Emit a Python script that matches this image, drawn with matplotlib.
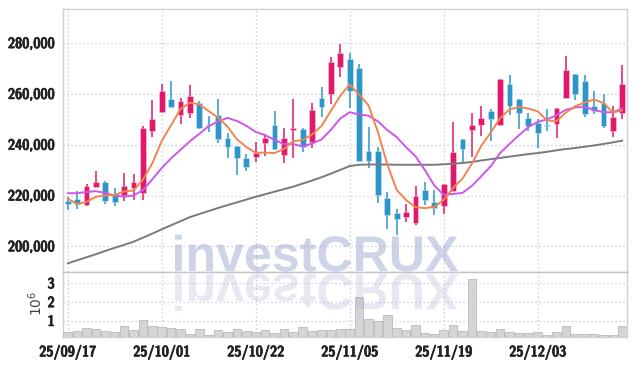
import os
import matplotlib
matplotlib.use('Agg')
import matplotlib.pyplot as plt
from matplotlib.patches import PathPatch
from matplotlib.textpath import TextPath
from matplotlib.font_manager import FontProperties
from matplotlib import font_manager as fm
from matplotlib.transforms import Affine2D
import matplotlib.patheffects as pe
import numpy as np
import warnings
warnings.filterwarnings('ignore')

# ---------------- data ----------------
dates = ['25/09/17', '25/09/18', '25/09/19', '25/09/22', '25/09/23', '25/09/24', '25/09/25', '25/09/26',
         '25/09/29', '25/09/30', '25/10/01', '25/10/02', '25/10/10', '25/10/13', '25/10/14', '25/10/15',
         '25/10/16', '25/10/17', '25/10/20', '25/10/21', '25/10/22', '25/10/23', '25/10/24', '25/10/27',
         '25/10/28', '25/10/29', '25/10/30', '25/10/31', '25/11/03', '25/11/04', '25/11/05', '25/11/06',
         '25/11/07', '25/11/10', '25/11/11', '25/11/12', '25/11/13', '25/11/14', '25/11/17', '25/11/18',
         '25/11/19', '25/11/20', '25/11/21', '25/11/24', '25/11/25', '25/11/26', '25/11/27', '25/11/28',
         '25/12/01', '25/12/02', '25/12/03', '25/12/04', '25/12/05', '25/12/08', '25/12/09', '25/12/10',
         '25/12/11', '25/12/12', '25/12/15', '25/12/16']

opens = [218000, 218500, 216200, 223400, 225300, 220600, 220300, 222900, 221000, 245500,
         253000, 258000, 251800, 252400, 256600, 248300, 251600, 242500, 239500, 234700,
         235300, 240800, 247800, 236000, 245800, 246200, 241200, 258400, 259900, 270500,
         273700, 270300, 237500, 237500, 219200, 213000, 211600, 209200, 222000, 217400,
         215900, 221800, 242400, 245900, 247900, 253400, 247800, 263900, 258000, 250500,
         248400, 247600, 248300, 258300, 267800, 265100, 255300, 256600, 245500, 252400]
highs = [219500, 221800, 224700, 229700, 225600, 223100, 228900, 228500, 247500, 257600,
         263800, 265100, 258300, 263300, 257200, 251300, 257900, 244700, 239500, 236300,
         241200, 244200, 253200, 246700, 257900, 246400, 256300, 262600, 274700, 279500,
         276100, 271600, 247000, 239200, 221200, 214500, 216700, 223700, 225500, 222100,
         224500, 248900, 242400, 252400, 255100, 254200, 265800, 267600, 258000, 252500,
         250000, 254200, 254300, 275100, 267800, 267400, 261300, 259900, 255300, 271400]
lows = [214200, 214500, 215900, 223400, 216600, 215800, 217900, 218400, 218400, 242900,
        252400, 255000, 248000, 250400, 246000, 245000, 240800, 234600, 227900, 229500,
        233000, 235500, 237900, 232600, 234900, 237000, 238800, 251000, 256000, 266800,
        254300, 233700, 231000, 217100, 206700, 204300, 209500, 208400, 216400, 212200,
        212900, 221800, 232600, 235000, 243400, 241400, 247800, 251700, 246000, 245500,
        238600, 245500, 242500, 258300, 257400, 250800, 252100, 246400, 242900, 250000]
closes = [216700, 216700, 223700, 225300, 217900, 217500, 223700, 225300, 246700, 250100,
          261200, 255000, 257200, 259200, 246700, 247900, 242400, 239200, 234600, 231300,
          236600, 242800, 238300, 242600, 246600, 238900, 253700, 255000, 272600, 276100,
          261200, 233700, 233700, 220300, 212500, 210900, 213700, 219700, 218400, 215200,
          224500, 237100, 238200, 247800, 250500, 250000, 265800, 255400, 252400, 247500,
          244700, 247500, 254300, 269300, 259900, 252000, 253400, 247400, 250800, 263900]
volumes = [390000, 440000, 610000, 550000, 440000, 390000, 720000, 500000, 1030000, 720000,
           670000, 640000, 580000, 310000, 550000, 270000, 540000, 390000, 590000, 470000,
           430000, 540000, 380000, 590000, 430000, 700000, 480000, 540000, 540000, 590000,
           590000, 2290000, 1090000, 980000, 1300000, 600000, 490000, 760000, 380000, 320000,
           540000, 800000, 480000, 3260000, 480000, 430000, 590000, 430000, 380000, 380000,
           430000, 270000, 430000, 750000, 320000, 320000, 320000, 270000, 270000, 750000]

# moving averages whose window reaches before the first visible day
ma5_head = [218800, 216600, 217500, 219500]
ma10_head = [220900, 220900, 221400, 221700, 221000, 220000, 219600, 220000, 222100]
ma60 = [193300, 194500, 195700, 196900, 198200, 199400, 200600, 201800, 203400, 205000,
        206700, 208300, 209900, 211500, 212700, 213900, 215100, 216200, 217300, 218400,
        219500, 220500, 221500, 222500, 223500, 224700, 225900, 227200, 228600, 230100,
        231600, 232100, 232200, 232200, 232200, 232100, 232100, 232100, 232100, 232100,
        232300, 232500, 232800, 233200, 233800, 234300, 234800, 235300, 235800, 236300,
        236700, 237200, 237800, 238300, 238700, 239200, 239700, 240300, 240900, 241600]

price_ticks = [200000, 220000, 240000, 260000, 280000]
vol_ticks = [1, 2, 3]
date_tick_step = 10

# ---------------- styling ----------------
UP = '#e2196b'
DOWN = '#2e95c8'
C_MA5 = '#ef8550'
C_MA10 = '#cc58ea'
C_MA60 = '#7a7a7a'
GRID = '#c4c7dc'
TXT = '#222222'


def pick_label_font():
    """Pick the installed sans face whose '280,000' proportions best match the reference."""
    target = 46.0 / 11.0
    best = None
    seen = set()
    for f in fm.fontManager.ttflist:
        nm = (f.name + ' ' + os.path.basename(f.fname)).lower()
        if f.fname in seen or 'mono' in nm or 'italic' in nm or 'oblique' in nm:
            continue
        if 'sans' not in nm and not any(k in nm for k in ('roboto', 'lato', 'inter')):
            continue
        if 'cjk' in nm or 'math' in nm or 'symbol' in nm or 'display' in nm:
            continue
        seen.add(f.fname)
        w = f.weight
        if isinstance(w, str):
            w = {'normal': 400, 'regular': 400, 'book': 400, 'medium': 500,
                 'semibold': 600, 'demibold': 600, 'bold': 700}.get(w.lower(), 400)
        if w < 400 or w > 700:
            continue
        try:
            prop = FontProperties(fname=f.fname)
            pw = TextPath((0, 0), '280,000', size=1, prop=prop).get_extents().width
            ph = TextPath((0, 0), '280', size=1, prop=prop).get_extents().height
        except Exception:
            continue
        if ph <= 0:
            continue
        score = abs(pw / ph - target) + 0.10 * abs(w - 620) / 150
        if best is None or score < best[0]:
            best = (score, f.fname, ph)
    if best is None:
        return FontProperties(family='DejaVu Sans'), 0.73
    return FontProperties(fname=best[1]), best[2]


lab_fp, digit_h = pick_label_font()
lab_size = 11.0 / digit_h * 0.72   # points for an 11 px digit height
lab_fp.set_size(lab_size)
thicken = [pe.withStroke(linewidth=0.55, foreground=TXT)]

W, H = 637, 366
fig = plt.figure(figsize=(W / 100, H / 100), dpi=100)
fig.patch.set_facecolor('white')

L, R = 63, 627
ax = fig.add_axes([L / W, (H - 272) / H, (R - L) / W, (272 - 9) / H])
axv = fig.add_axes([L / W, (H - 337) / H, (R - L) / W, (337 - 272) / H], sharex=ax)

n = len(closes)
x = np.arange(n)
c_arr = np.array(closes, float)
ma5 = np.array([c_arr[i - 4:i + 1].mean() if i >= 4 else ma5_head[i] for i in range(n)])
ma10 = np.array([c_arr[i - 9:i + 1].mean() if i >= 9 else ma10_head[i] for i in range(n)])

# candles
body_w = 0.62
for i in range(n):
    o, h, l, c = opens[i], highs[i], lows[i], closes[i]
    col = UP if c >= o else DOWN
    ax.vlines(x[i], l, h, color=col, lw=1.1, zorder=3)
    bot = min(o, c)
    hgt = max(abs(c - o), 450)
    if abs(c - o) < 450:
        bot = (o + c) / 2 - 225
    ax.bar(x[i], hgt, bottom=bot, width=body_w, color=col, edgecolor=(1, 1, 1, 0.35),
           linewidth=0.6, zorder=4)

ax.plot(x, ma60, color=C_MA60, lw=1.4, zorder=5, solid_capstyle='round')
ax.plot(x, ma10, color=C_MA10, lw=1.4, zorder=5, solid_capstyle='round')
ax.plot(x, ma5, color=C_MA5, lw=1.4, zorder=6, solid_capstyle='round')

ax.set_xlim(-0.5, n - 0.5)
ax.set_ylim(189900, 293400)
ax.set_yticks(price_ticks)
ax.set_yticklabels([f'{v:,}' for v in price_ticks])

# volume
vol_m = np.array(volumes) / 1e6
axv.bar(x, vol_m, width=0.92, color='#d5d5d8', edgecolor='#b9b9be', linewidth=0.6, zorder=3)
axv.set_ylim(0.143, 3.607)
axv.set_yticks(vol_ticks)
axv.set_yticklabels([str(v) for v in vol_ticks])

ticks = list(range(0, n, date_tick_step))
axv.set_xticks(ticks)
axv.set_xticklabels([dates[i] for i in ticks])
plt.setp(ax.get_xticklabels(), visible=False)

for a in (ax, axv):
    a.grid(True, color=GRID, linestyle=(0, (1, 2.2)), linewidth=0.9, zorder=0)
    a.set_axisbelow(True)
    a.tick_params(length=0, pad=6, labelcolor=TXT)
    for lab in a.get_yticklabels() + a.get_xticklabels():
        lab.set_fontproperties(lab_fp)
        lab.set_path_effects(thicken)
    for s in a.spines.values():
        s.set_color('#d0d0d4')
        s.set_linewidth(1.0)
axv.spines['top'].set_color('#c4c4c8')
ax.spines['bottom'].set_color('#c4c4c8')
axv.tick_params(axis='x', pad=6)

axv.text(-0.048, 0.52, r'$10^6$', transform=axv.transAxes, rotation=90, ha='center', va='center',
         fontsize=10, color='#444444')

# watermark with reflection
fp = FontProperties(family=['Liberation Sans', 'DejaVu Sans'], weight='bold')
tp = TextPath((0, 0), 'investCRUX', size=1, prop=fp)
ext = tp.get_extents()
s = 283.0 / ext.width
t_up = Affine2D().translate(-ext.x0, 0).scale(s, s).translate(175, H - 271)
t_dn = Affine2D().translate(-ext.x0, 0).scale(s, -s * 1.02).translate(175, H - 274)
fig.add_artist(PathPatch(tp, transform=t_up, facecolor=(0.50, 0.56, 0.77), edgecolor='none',
                         alpha=0.38, zorder=10))
fig.add_artist(PathPatch(tp, transform=t_dn, facecolor=(0.62, 0.60, 0.77), edgecolor='none',
                         alpha=0.22, zorder=10))

fig.savefig('out.png', dpi=100)
